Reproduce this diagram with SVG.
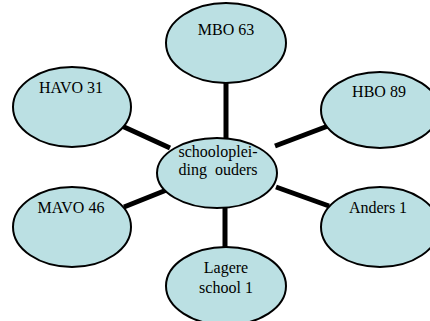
<svg xmlns="http://www.w3.org/2000/svg" width="430" height="321" viewBox="0 0 430 321">
<style>
.n{fill:#bbe0e3;stroke:#000;stroke-width:2}
.t{font-family:"Liberation Serif","Times New Roman",serif;font-size:16px;fill:#000;text-anchor:middle}
.c{stroke:#000;stroke-width:5;fill:none}
</style>
<rect width="430" height="321" fill="#fff"/>
<g id="connectors">
<line class="c" x1="226" y1="82" x2="226" y2="139"/>
<line class="c" x1="225" y1="207" x2="225" y2="248"/>
<line class="c" x1="122" y1="126" x2="170" y2="148"/>
<line class="c" x1="328" y1="126" x2="275" y2="146"/>
<line class="c" x1="124" y1="207" x2="169" y2="189"/>
<line class="c" x1="276" y1="187" x2="329" y2="206"/>
</g>
<g id="mbo"><ellipse class="n" cx="226" cy="43" rx="60" ry="40"/><text class="t" x="226" y="35">MBO 63</text></g>
<g id="havo"><ellipse class="n" cx="72" cy="107" rx="59" ry="40"/><text class="t" x="71" y="93">HAVO 31</text></g>
<g id="hbo"><ellipse class="n" cx="380" cy="110" rx="59" ry="38"/><text class="t" x="379" y="97">HBO 89</text></g>
<g id="center"><ellipse class="n" cx="217" cy="173" rx="60" ry="35"/><text class="t" x="218" y="157">schooloplei-</text><text class="t" x="218" y="175" xml:space="preserve">ding  ouders</text></g>
<g id="mavo"><ellipse class="n" cx="72" cy="227" rx="59" ry="40"/><text class="t" x="71" y="213">MAVO 46</text></g>
<g id="anders"><ellipse class="n" cx="380" cy="227" rx="59" ry="40"/><text class="t" x="378" y="213">Anders 1</text></g>
<g id="lagere"><ellipse class="n" cx="226" cy="286" rx="60" ry="39"/><text class="t" x="226" y="273">Lagere</text><text class="t" x="226" y="293">school 1</text></g>
</svg>
